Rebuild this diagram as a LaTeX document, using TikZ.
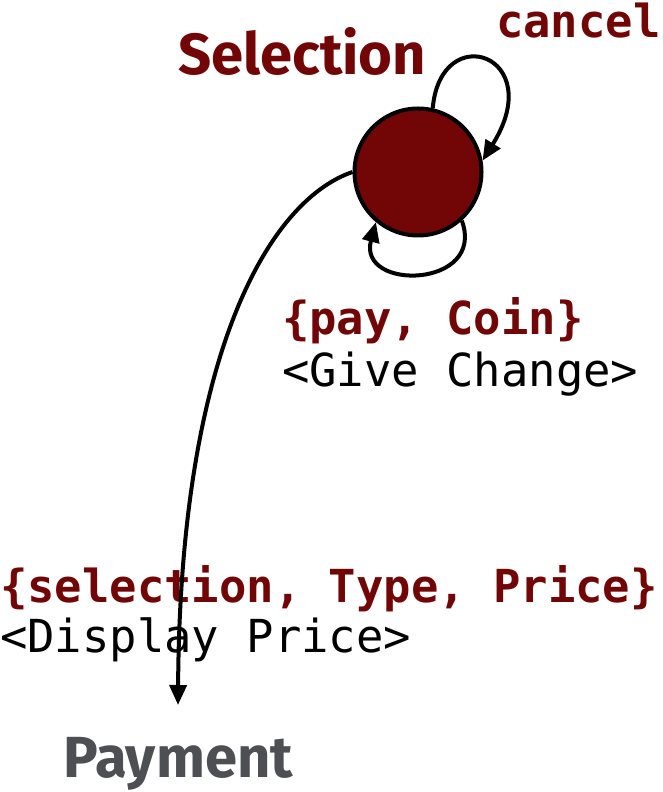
\documentclass[tikz,border=0pt]{standalone}
\usepackage{fontspec}
\usepackage{xcolor}
\usepackage{tikz}
\usetikzlibrary{arrows.meta}
\newfontfamily\monofont{DejaVu Sans Mono}
\newfontfamily\headfont{Fira Sans}
\definecolor{statered}{HTML}{720606}
\definecolor{stategray}{HTML}{4D4F53}
\tikzset{
  statedot/.style={circle,draw=black,line width=4pt,fill=statered,minimum size=127pt,inner sep=0pt},
  statename/.style={font=\headfont\bfseries\fontsize{58}{60}\selectfont,inner sep=0pt,anchor=base west},
  evt/.style={font=\monofont\bfseries\fontsize{45.5}{52}\selectfont,text=statered,inner sep=0pt,anchor=base west},
  act/.style={font=\monofont\fontsize{45.5}{52}\selectfont,text=black,inner sep=0pt,anchor=base west},
  trans/.style={line width=4pt,-{Triangle[length=20pt,width=17pt]}}
}
\begin{document}
\begin{tikzpicture}[x=1pt,y=1pt]
\useasboundingbox (0,0) rectangle (663,792);
% state and names
\node [statedot] (sel) at (418,620) {};
\node [statename,text=statered] (selname) at (178,717) {Selection};
\node [statename,text=stategray] (payname) at (63,14) {Payment};
\coordinate (payin) at (178,87);
% labels
\node [evt] (cancel) at (496,754) {cancel};
\node [evt] (paycoin) at (282,457) {\{pay, Coin\}};
\node [act] (change) at (282,405) {<Give Change>};
\node [evt] (seltype) at (0,189) {\{selection, Type, Price\}};
\node [act] (display) at (0,139) {<Display Price>};
% transitions
\draw [trans] (sel.77) .. controls +(85:90) and +(58:125) .. (sel.10);
\draw [trans] (sel.312) .. controls +(-70:72) and +(255:72) .. (sel.230);
\draw [trans] (sel.west) .. controls +(-82,-28) and +(2,355) .. (payin);
\end{tikzpicture}
\end{document}
